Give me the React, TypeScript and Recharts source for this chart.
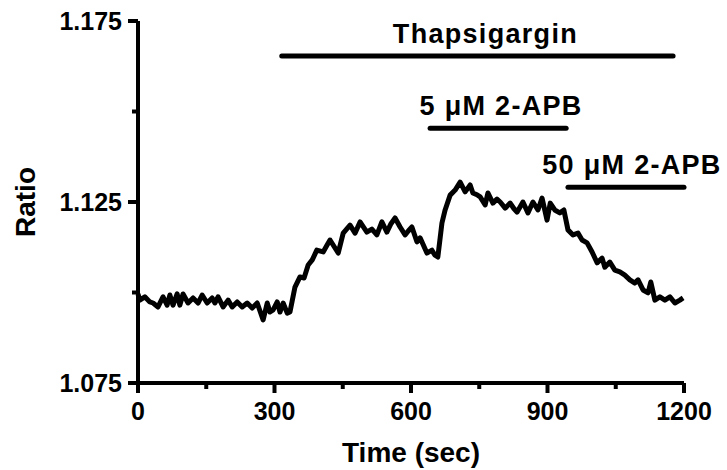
import { LineChart, Line, XAxis, YAxis, ReferenceLine } from 'recharts';

// fluorescence ratio trace (time in s)
const TIME = [
  0, 4, 15, 26, 33, 44, 55, 64, 70, 77, 86, 92, 99, 110, 121, 132, 141, 152, 163, 169,
  176, 187, 198, 207, 218, 229, 240, 251, 262, 275, 284, 290, 297, 306, 312, 319, 328, 334,
  345, 356, 365, 374, 383, 393, 407, 415, 422, 440, 451, 466, 477, 488, 503, 514, 525, 536,
  547, 556, 565, 576, 587, 594, 602, 613, 620, 635, 646, 652, 659, 668, 675, 686, 697, 708,
  719, 730, 736, 745, 752, 763, 769, 780, 789, 796, 807, 818, 826, 833, 846, 857, 868, 879,
  888, 899, 906, 916, 927, 936, 945, 956, 967, 976, 987, 998, 1009, 1020, 1026, 1037, 1048,
  1059, 1070, 1081, 1092, 1099, 1110, 1121, 1127, 1136, 1147, 1158, 1169, 1180, 1191, 1198,
];
const RATIO = [
  1.0996, 1.0979, 1.0988, 1.0974, 1.0971, 1.096, 1.0988, 1.0965, 1.0993, 1.0965, 1.0996, 1.0965,
  1.0996, 1.0971, 1.0985, 1.0971, 1.0993, 1.0971, 1.0985, 1.0971, 1.0988, 1.096, 1.0979, 1.096,
  1.0974, 1.096, 1.0971, 1.0957, 1.0971, 1.0924, 1.0971, 1.0946, 1.0952, 1.0974, 1.0946, 1.0971,
  1.0943, 1.0946, 1.1015, 1.1043, 1.104, 1.1076, 1.109, 1.1117, 1.1112, 1.113, 1.1145, 1.1109,
  1.1164, 1.1186, 1.1164, 1.1195, 1.1167, 1.1175, 1.1159, 1.1195, 1.1167, 1.119, 1.1206, 1.1181,
  1.1159, 1.117, 1.1181, 1.114, 1.1151, 1.1109, 1.1117, 1.1104, 1.1098, 1.1192, 1.1228, 1.1269,
  1.1283, 1.1305, 1.1278, 1.1297, 1.1275, 1.127, 1.1264, 1.1242, 1.1275, 1.1247, 1.1258, 1.125,
  1.1233, 1.1247, 1.1232, 1.1222, 1.125, 1.122, 1.125, 1.1228, 1.1261, 1.12, 1.1247, 1.1228,
  1.122, 1.1228, 1.1173, 1.1159, 1.1164, 1.1145, 1.1137, 1.1112, 1.1082, 1.1095, 1.107, 1.1084,
  1.1062, 1.1057, 1.1048, 1.1035, 1.1026, 1.1035, 1.1007, 1.0999, 1.1029, 1.0979, 1.0988,
  1.0979, 1.0988, 1.0971, 1.0979, 1.0985,
];

const X_TICKS = [0, 150, 300, 450, 600, 750, 900, 1050, 1200];
const X_LABELED = [0, 300, 600, 900, 1200];
const Y_TICKS = [1.075, 1.1, 1.125, 1.15, 1.175];
const Y_LABELED = ['1.075', '1.125', '1.175'];

// treatment bars: label, start, end, height on the ratio scale
const TREATMENTS = [
  { name: 'Thapsigargin', from: 316, to: 1176, level: 1.1653 },
  { name: '5 \u03bcM 2-APB', from: 642, to: 941, level: 1.1454 },
  { name: '50 \u03bcM 2-APB', from: 945, to: 1200, level: 1.1291 },
];
// labels sit a little right of their bar's centre (px)
const LABEL_DX = [8, 3, 6];

const FONT = '"Liberation Sans", Arial, sans-serif';
const TICK_SIZE = 10;
const X_MARGIN = 9;
const Y_MARGIN = 6;

const data = TIME.map((t, i) => ({ time: t, ratio: RATIO[i] }));

const XTick = (props: any) => {
  const { x, y, payload } = props;
  const axisY = y - TICK_SIZE - X_MARGIN;
  const major = X_LABELED.includes(payload.value);
  return (
    <g>
      <line x1={x} x2={x} y1={axisY} y2={axisY + (major ? TICK_SIZE : 6)} stroke="#000" strokeWidth={4} />
      {major && (
        <text x={x} y={y} dy="0.71em" textAnchor="middle" fontFamily={FONT} fontWeight="bold" fontSize={25} fill="#000">
          {payload.value}
        </text>
      )}
    </g>
  );
};

const YTick = (props: any) => {
  const { x, y, payload } = props;
  const axisX = x + TICK_SIZE + Y_MARGIN;
  const label = payload.value.toFixed(3);
  const major = Y_LABELED.includes(label);
  return (
    <g>
      <line x1={axisX - (major ? TICK_SIZE : 6)} x2={axisX} y1={y} y2={y} stroke="#000" strokeWidth={4} />
      {major && (
        <text x={x} y={y} dy="0.36em" textAnchor="end" fontFamily={FONT} fontWeight="bold" fontSize={25} fill="#000">
          {label}
        </text>
      )}
    </g>
  );
};

const YTitle = (props: any) => {
  const vb = props.viewBox;
  const cx = vb.x + 25;
  const cy = vb.y + vb.height / 2;
  return (
    <text x={cx} y={cy} dy="0.36em" transform={`rotate(-90 ${cx} ${cy})`} textAnchor="middle" fontFamily={FONT} fontWeight="bold" fontSize={28} fill="#000">
      Ratio
    </text>
  );
};

const XTitle = (props: any) => {
  const vb = props.viewBox;
  const cx = vb.x + vb.width / 2;
  const cy = vb.y + 69;
  return (
    <text x={cx} y={cy} dy="0.36em" textAnchor="middle" fontFamily={FONT} fontWeight="bold" fontSize={28} fill="#000">
      Time (sec)
    </text>
  );
};

const BarLabel = (props: any) => {
  const vb = props.viewBox;
  const cx = vb.x + vb.width / 2 + props.shift;
  return (
    <text x={cx} y={vb.y - 13} textAnchor="middle" fontFamily={FONT} fontWeight="bold" fontSize={27} letterSpacing={1.3} fill="#000">
      {props.text}
    </text>
  );
};

export default function App() {
  return (
    <div style={{ position: 'absolute', left: 0, top: 0, background: '#fff' }}>
      <LineChart width={727} height={470} data={data} margin={{ top: 21, right: 43, left: 0, bottom: 27 }}>
        <XAxis
          type="number"
          dataKey="time"
          domain={[0, 1200]}
          ticks={X_TICKS}
          interval={0}
          height={60}
          axisLine={{ stroke: '#000', strokeWidth: 4 }}
          tickLine={false}
          tickSize={TICK_SIZE}
          tickMargin={X_MARGIN}
          tick={<XTick />}
          label={<XTitle />}
        />
        <YAxis
          type="number"
          domain={[1.075, 1.175]}
          ticks={Y_TICKS}
          interval={0}
          width={138}
          axisLine={{ stroke: '#000', strokeWidth: 4 }}
          tickLine={false}
          tickSize={TICK_SIZE}
          tickMargin={Y_MARGIN}
          tick={<YTick />}
          label={<YTitle />}
        />
        <Line
          type="linear"
          dataKey="ratio"
          stroke="#000"
          strokeWidth={5}
          strokeLinejoin="round"
          dot={false}
          isAnimationActive={false}
        />
        {TREATMENTS.map((tr, i) => (
          <ReferenceLine
            key={tr.name}
            segment={[
              { x: tr.from, y: tr.level },
              { x: tr.to, y: tr.level },
            ]}
            stroke="#000"
            strokeWidth={5}
            strokeLinecap="round"
            ifOverflow="visible"
            label={<BarLabel text={tr.name} shift={LABEL_DX[i]} />}
          />
        ))}
      </LineChart>
    </div>
  );
}
